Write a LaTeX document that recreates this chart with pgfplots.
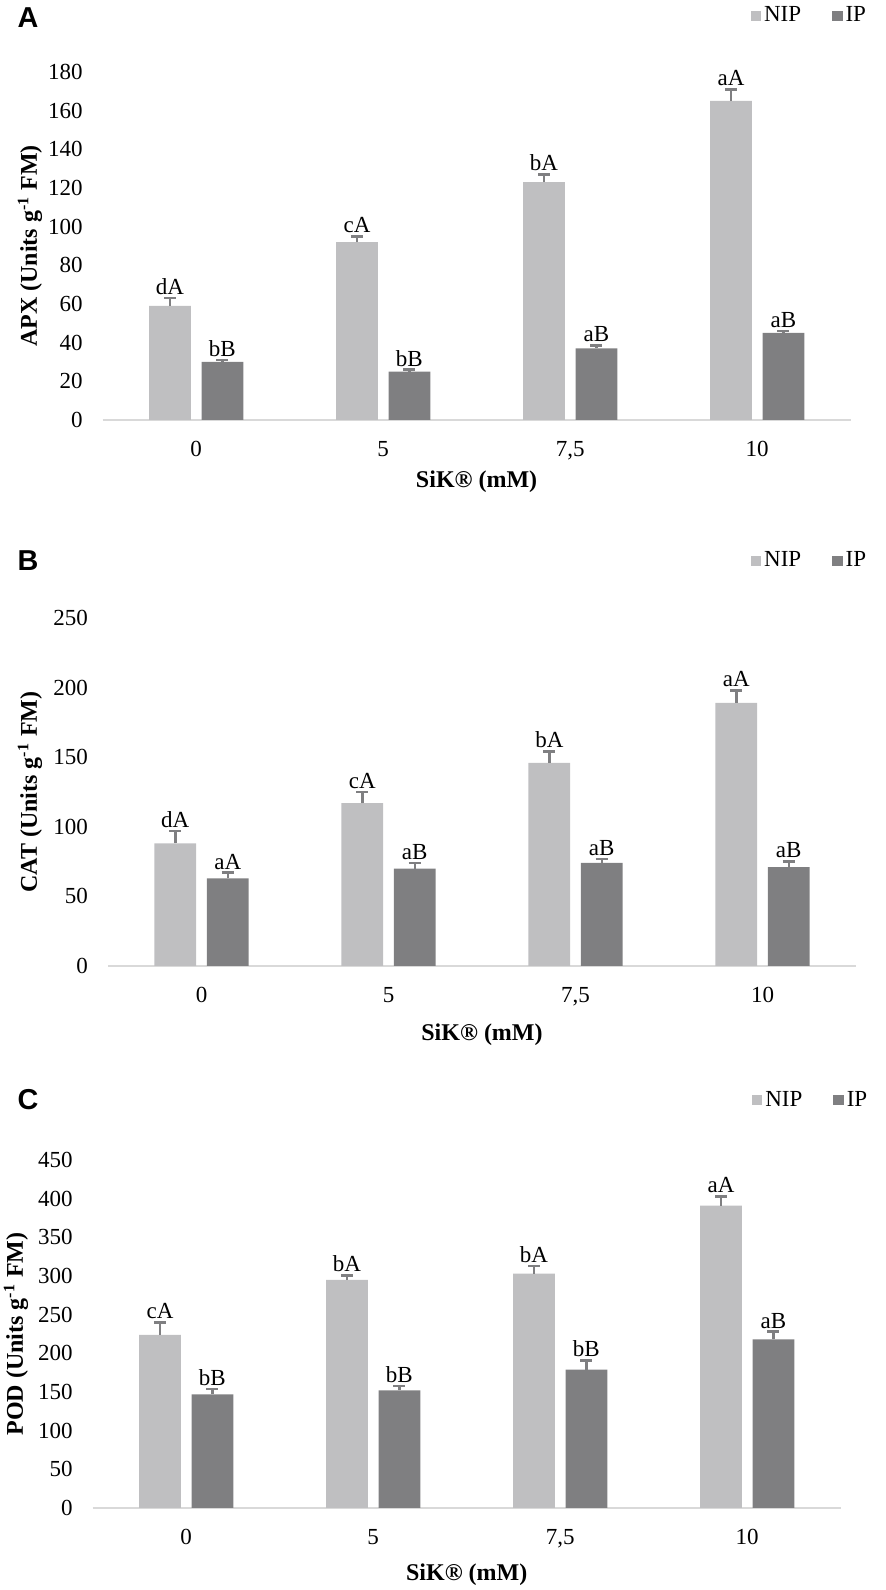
\documentclass[border=0pt]{standalone}
\usepackage{pgfplots}
\pgfplotsset{compat=1.18}
\usepackage{pgfplotstable}
\usepackage{fontspec}
\setmainfont{Liberation Serif}
\newfontfamily\arial{Liberation Sans}
\definecolor{nipc}{RGB}{191,191,193}
\definecolor{ipc}{RGB}{127,127,129}
\definecolor{axc}{RGB}{217,217,217}

\pgfplotstableread{
x nip nipe ip ipe nipl ipl
0 59 4 30 1 dA bB
1 92 3 25 1 cA bB
2 123 4 37 1.5 bA aB
3 165 6 45 1 aA aB
}\tA
\pgfplotstableread{
x nip nipe ip ipe nipl ipl
0 88 9 63 4 dA aA
1 117 8 70 4 cA aB
2 146 8 74 3 bA aB
3 189 9 71 4 aA aB
}\tB
\pgfplotstableread{
x nip nipe ip ipe nipl ipl
0 224 16 147 7 cA bB
1 295 6 152 6 bA bB
2 303 10 179 12 bA bB
3 391 12 218 10 aA aB
}\tC

\newcommand{\tfont}{\fontsize{11.5}{13}\selectfont}
\newcommand{\lfont}{\bfseries\fontsize{12}{14}\selectfont}

\pgfplotsset{
  panel/.style={
    scale only axis, height=174pt, ymin=0, xmin=-0.5, xmax=3.5,
    clip=false,
    axis x line*=bottom, axis y line*=left,
    y axis line style={draw=none},
    x axis line style={draw=axc, line width=1.4pt},
    major tick length=0pt, xtick style={draw=none}, ytick style={draw=none},
    xtick={0,1,2,3}, xticklabels={0,5,{7,5},10},
    ticklabel style={font=\tfont},
    yticklabel style={xshift=-6.5pt},
    xticklabel style={yshift=-7.3pt},
    /pgf/number format/assume math mode=true,
    ybar, bar width=20.85pt,
    legend columns=2,
    legend style={draw=none, fill=none, font=\tfont, anchor=east,
      nodes={inner xsep=1.5pt},
      /tikz/every even column/.append style={column sep=14pt},
      inner sep=0pt},
  },
  nipbar/.style={fill=nipc, draw=none, bar shift=-13.1pt,
    legend image code/.code={\fill[nipc] (0pt,-2.6pt) rectangle (5.2pt,2.6pt);},
    error bars/.cd, y dir=plus, y explicit,
    error bar style={ipc, line width=1.2pt},
    error mark options={rotate=90, ipc, line width=1.3pt, mark size=3pt}},
  ipbar/.style={fill=ipc, draw=none, bar shift=13.1pt,
    legend image code/.code={\fill[ipc] (0pt,-2.6pt) rectangle (5.2pt,2.6pt);},
    error bars/.cd, y dir=plus, y explicit,
    error bar style={ipc, line width=1.2pt},
    error mark options={rotate=90, ipc, line width=1.3pt, mark size=3pt}},
  lab/.style={forget plot, draw=none, fill=none, bar shift=#1,
    nodes near coords, point meta=explicit symbolic,
    every node near coord/.append style={font=\tfont, text=black, anchor=south, inner sep=1.5pt}},
}

\begin{document}
\begin{tikzpicture}
\useasboundingbox (0,0) rectangle (443pt,795pt);

% Panel A
\begin{axis}[panel, at={(51.35pt,585pt)}, anchor=south west, width=374pt,
  ymax=180, ytick={0,20,...,180},
  legend style={at={(rel axis cs:1.025,1.161)}}]
\addplot[nipbar] table[x=x, y=nip, y error=nipe] {\tA};
\addlegendentry{NIP}
\addplot[ipbar] table[x=x, y=ip, y error=ipe] {\tA};
\addlegendentry{IP}
\addplot[lab=-13.1pt] table[x=x, y expr=\thisrow{nip}+\thisrow{nipe}, meta=nipl] {\tA};
\addplot[lab=13.1pt] table[x=x, y expr=\thisrow{ip}+\thisrow{ipe}, meta=ipl] {\tA};
\end{axis}
\node[font=\arial\bfseries\fontsize{14.4}{16}\selectfont, inner sep=0pt] at (14pt,786pt) {A};
\node[rotate=90, font=\lfont, inner sep=0pt] at (15pt,672pt) {APX (Units g\textsuperscript{-1} FM)};
\node[font=\lfont, inner sep=0pt] at (238.3pt,554pt) {SiK® (mM)};

% Panel B
\begin{axis}[panel, at={(54pt,312pt)}, anchor=south west, width=374pt,
  ymax=250, ytick={0,50,...,250},
  legend style={at={(rel axis cs:1.018,1.164)}}]
\addplot[nipbar] table[x=x, y=nip, y error=nipe] {\tB};
\addlegendentry{NIP}
\addplot[ipbar] table[x=x, y=ip, y error=ipe] {\tB};
\addlegendentry{IP}
\addplot[lab=-13.1pt] table[x=x, y expr=\thisrow{nip}+\thisrow{nipe}, meta=nipl] {\tB};
\addplot[lab=13.1pt] table[x=x, y expr=\thisrow{ip}+\thisrow{ipe}, meta=ipl] {\tB};
\end{axis}
\node[font=\arial\bfseries\fontsize{14.4}{16}\selectfont, inner sep=0pt] at (14pt,514.5pt) {B};
\node[rotate=90, font=\lfont, inner sep=0pt] at (15pt,399pt) {CAT (Units g\textsuperscript{-1} FM)};
\node[font=\lfont, inner sep=0pt] at (241pt,277.5pt) {SiK® (mM)};

% Panel C
\begin{axis}[panel, at={(46.35pt,41pt)}, anchor=south west, width=374pt,
  ymax=450, ytick={0,50,...,450},
  legend style={at={(rel axis cs:1.04,1.172)}}]
\addplot[nipbar] table[x=x, y=nip, y error=nipe] {\tC};
\addlegendentry{NIP}
\addplot[ipbar] table[x=x, y=ip, y error=ipe] {\tC};
\addlegendentry{IP}
\addplot[lab=-13.1pt] table[x=x, y expr=\thisrow{nip}+\thisrow{nipe}, meta=nipl] {\tC};
\addplot[lab=13.1pt] table[x=x, y expr=\thisrow{ip}+\thisrow{ipe}, meta=ipl] {\tC};
\end{axis}
\node[font=\arial\bfseries\fontsize{14.4}{16}\selectfont, inner sep=0pt] at (14pt,245pt) {C};
\node[rotate=90, font=\lfont, inner sep=0pt] at (8pt,128pt) {POD (Units g\textsuperscript{-1} FM)};
\node[font=\lfont, inner sep=0pt] at (233.35pt,7.5pt) {SiK® (mM)};
\end{tikzpicture}
\end{document}
